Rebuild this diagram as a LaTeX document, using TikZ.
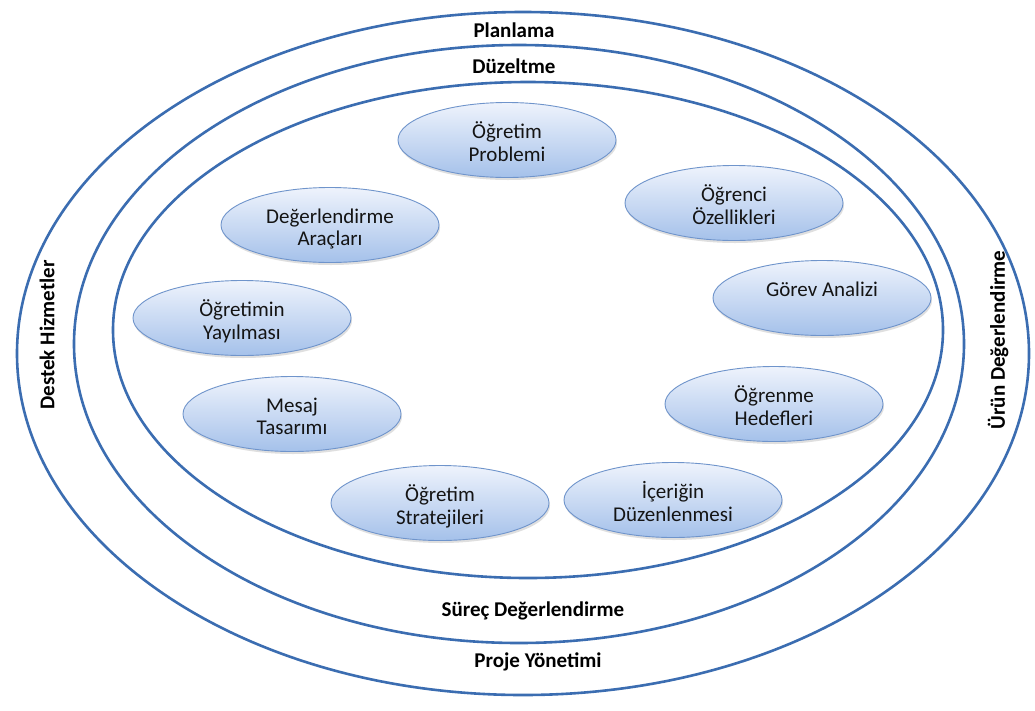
\documentclass[tikz,border=0pt]{standalone}
\usepackage{fontspec}
\setmainfont{Carlito}
\usetikzlibrary{shapes.geometric,shadows}
\definecolor{ringblue}{HTML}{3B6DB1}
\definecolor{bubbleedge}{HTML}{6F94CB}
\definecolor{bubbletop}{HTML}{EEF3FC}
\definecolor{bubblebot}{HTML}{A5C1EA}
\newcommand{\btext}[2]{\raisebox{#1}[\height][\depth]{\begin{tabular}{@{}c@{}}#2\end{tabular}}}
\tikzset{
  ring/.style={draw=ringblue, line width=2.6pt},
  ringlabel/.style={font=\fontsize{21}{23}\selectfont\bfseries, text=black, inner sep=1pt},
  bubble/.style={ellipse, draw=bubbleedge, line width=0.9pt,
    top color=bubbletop, bottom color=bubblebot,
    minimum width=218pt, minimum height=75pt, inner sep=0pt,
    text=black!92, font=\fontsize{21}{22.5}\selectfont,
    drop shadow={opacity=0.25, shadow xshift=1pt, shadow yshift=-2.5pt}}
}
\begin{document}
\begin{tikzpicture}[x=1pt,y=-1pt]
\useasboundingbox[fill=white] (0,0) rectangle (1035,710);
% rings
\draw[ring] (523,353.5) ellipse [x radius=506pt, y radius=341.5pt];
\draw[ring] (519,344) ellipse [x radius=445pt, y radius=299pt];
\draw[ring] (528,330) ellipse [x radius=415pt, y radius=248pt];
% ring labels
\node[ringlabel] (planlama) at (514,30) {Planlama};
\node[ringlabel] (duzeltme) at (514,66) {Düzeltme};
\node[ringlabel] (surec) at (533,611) {Süreç Değerlendirme};
\node[ringlabel] (proje) at (538,662) {Proje Yönetimi};
\node[ringlabel, rotate=90] (destek) at (47,335) {Destek Hizmetler};
\node[ringlabel, rotate=90] (urun) at (998,340) {Ürün Değerlendirme};
% bubbles
\node[bubble] (problem) at (507,140) {\btext{-5pt}{Öğretim\\Problemi}};
\node[bubble] (ogrenci) at (734,203) {\btext{-5pt}{Öğrenci\\Özellikleri}};
\node[bubble] (gorev) at (822,298) {\btext{6pt}{Görev Analizi}};
\node[bubble] (hedef) at (774,404) {\btext{-5pt}{Öğrenme\\Hedefleri}};
\node[bubble] (icerik) at (673,500) {\btext{-5pt}{İçeriğin\\Düzenlenmesi}};
\node[bubble] (strateji) at (440,503) {\btext{-5pt}{Öğretim\\Stratejileri}};
\node[bubble] (mesaj) at (292,414) {\btext{-5pt}{Mesaj\\Tasarımı}};
\node[bubble] (yayilma) at (242,318) {\btext{-5pt}{Öğretimin\\Yayılması}};
\node[bubble] (arac) at (330,225) {\btext{-5pt}{Değerlendirme\\Araçları}};
\end{tikzpicture}
\end{document}
